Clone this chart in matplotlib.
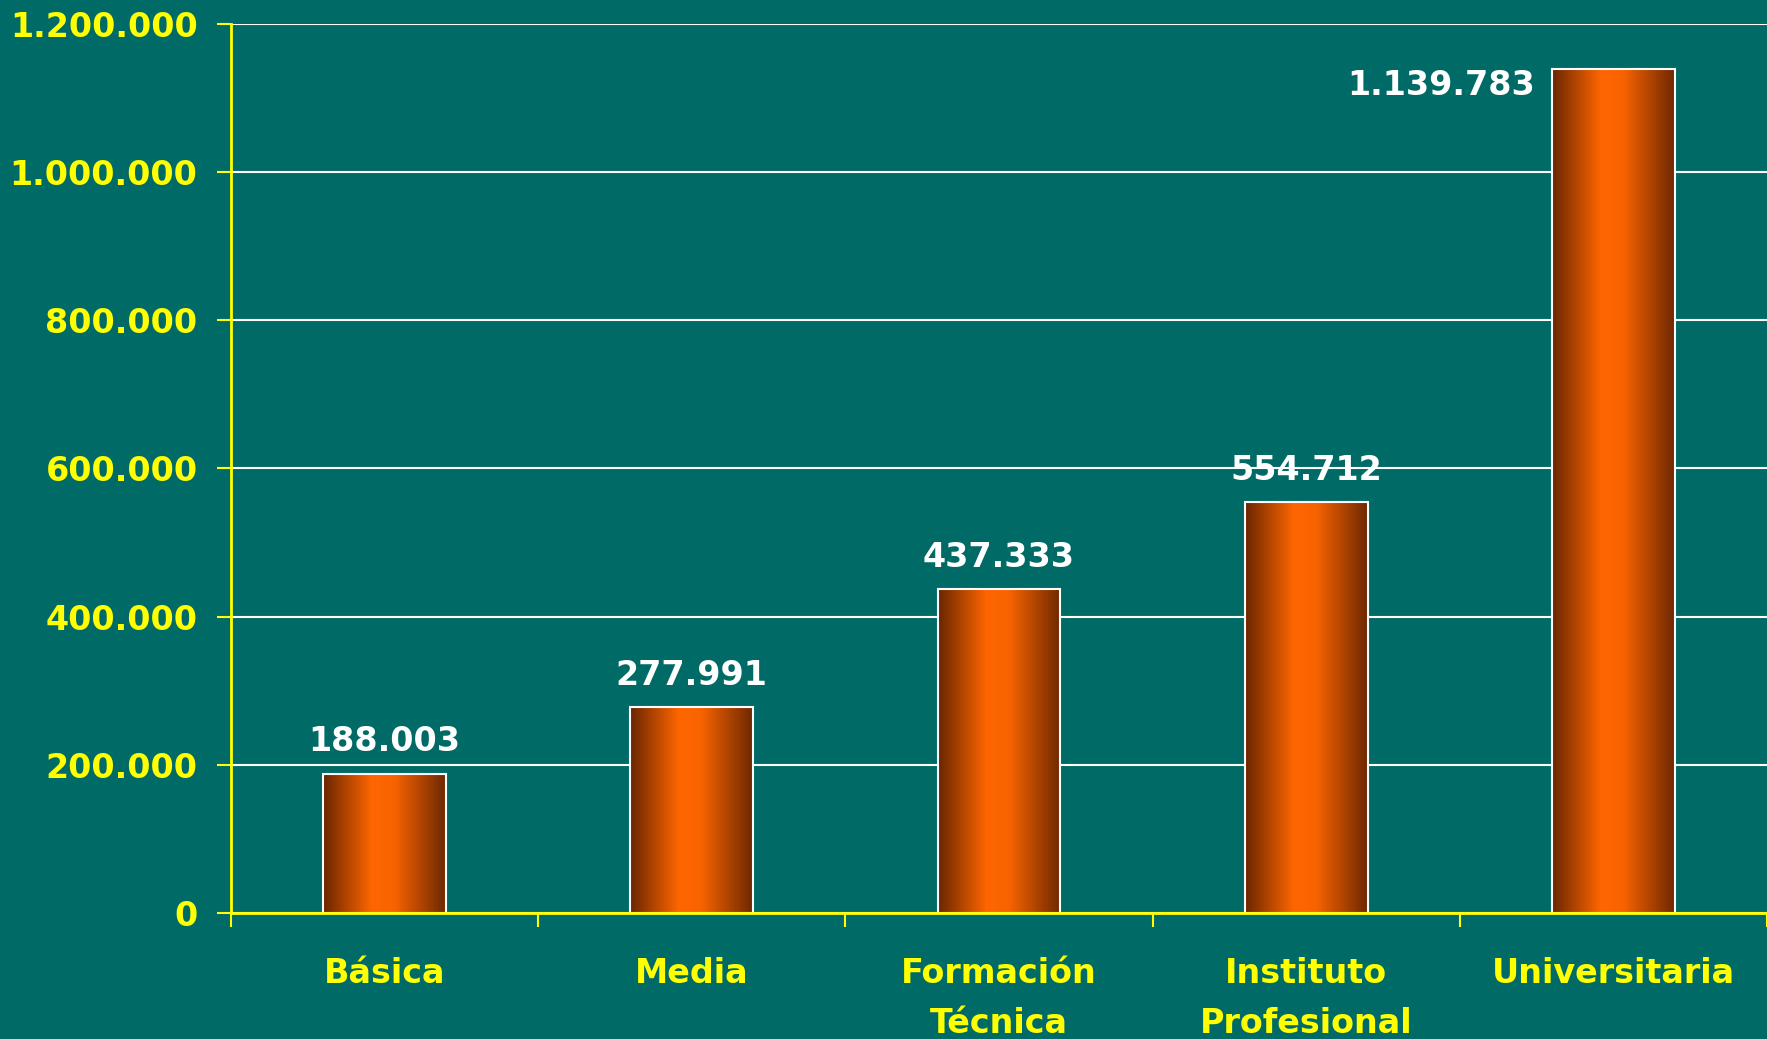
import numpy as np
import matplotlib
matplotlib.use("Agg")
import matplotlib.pyplot as plt
from matplotlib.colors import LinearSegmentedColormap
from matplotlib.ticker import FuncFormatter

# =========================
# 数据
# =========================
categorias = ["Básica", "Media", "Formación\nTécnica", "Instituto\nProfesional", "Universitaria"]
valores = [188003, 277991, 437333, 554712, 1139783]
y_ticks = [0, 200000, 400000, 600000, 800000, 1000000, 1200000]

FONDO = "#006B66"
AMARILLO = "#FFFF00"

plt.rcParams["font.family"] = ["DejaVu Sans"]
plt.rcParams["font.weight"] = "bold"


def miles(x, pos=None):
    return f"{int(x):,}".replace(",", ".")


fig = plt.figure(figsize=(17.67, 10.39), dpi=100, facecolor=FONDO)
ax = fig.add_axes([0.1307, 0.1213, 0.8693, 0.8557])
ax.set_facecolor(FONDO)

x = np.arange(len(valores))
ancho = 0.40

# degradado horizontal de las barras
cmap = LinearSegmentedColormap.from_list(
    "cobre", [(0.0, "#6A2600"), (0.40, "#FF6600"), (0.58, "#F86300"), (1.0, "#6E2800")]
)
grad = np.linspace(0, 1, 256).reshape(1, -1)

bars = ax.bar(x, valores, width=ancho, color="none", edgecolor="white", linewidth=1.5, zorder=4)
for b in bars:
    x0, w, h = b.get_x(), b.get_width(), b.get_height()
    im = ax.imshow(grad, cmap=cmap, aspect="auto", extent=(x0, x0 + w, 0, h), zorder=3)
    im.set_clip_path(b)

# etiquetas de valores
for xi, v in zip(x, valores):
    if v > 1000000:
        ax.annotate(miles(v), (xi - ancho / 2, v), xytext=(-12, -12), textcoords="offset points",
                    ha="right", va="center", color="white", fontsize=24, fontweight="bold", zorder=5)
    else:
        ax.annotate(miles(v), (xi, v), xytext=(0, 23), textcoords="offset points",
                    ha="center", va="center", color="white", fontsize=24, fontweight="bold", zorder=5)

ax.set_xlim(-0.5, len(valores) - 0.5)
ax.set_ylim(0, 1200000)
ax.set_yticks(y_ticks)
ax.yaxis.set_major_formatter(FuncFormatter(miles))
ax.grid(axis="y", color="white", linewidth=1.5, zorder=1)
ax.set_axisbelow(True)

ax.set_xticks(x)
ax.set_xticklabels(categorias, linespacing=1.65)
ax.set_xticks(np.arange(-0.5, len(valores)), minor=True)
ax.tick_params(axis="x", which="major", length=0, pad=32, labelsize=24, labelcolor=AMARILLO)
ax.tick_params(axis="x", which="minor", length=10, width=1.5, color=AMARILLO, direction="out")
ax.tick_params(axis="y", length=10, width=1.5, color=AMARILLO, labelsize=24, labelcolor=AMARILLO, pad=14)
for lab in ax.get_xticklabels() + ax.get_yticklabels():
    lab.set_fontweight("bold")

for s in ["top", "right"]:
    ax.spines[s].set_visible(False)
for s in ["left", "bottom"]:
    ax.spines[s].set_color(AMARILLO)
    ax.spines[s].set_linewidth(2)
    ax.spines[s].set_zorder(6)

fig.savefig("out.png", dpi=100, facecolor=FONDO)
